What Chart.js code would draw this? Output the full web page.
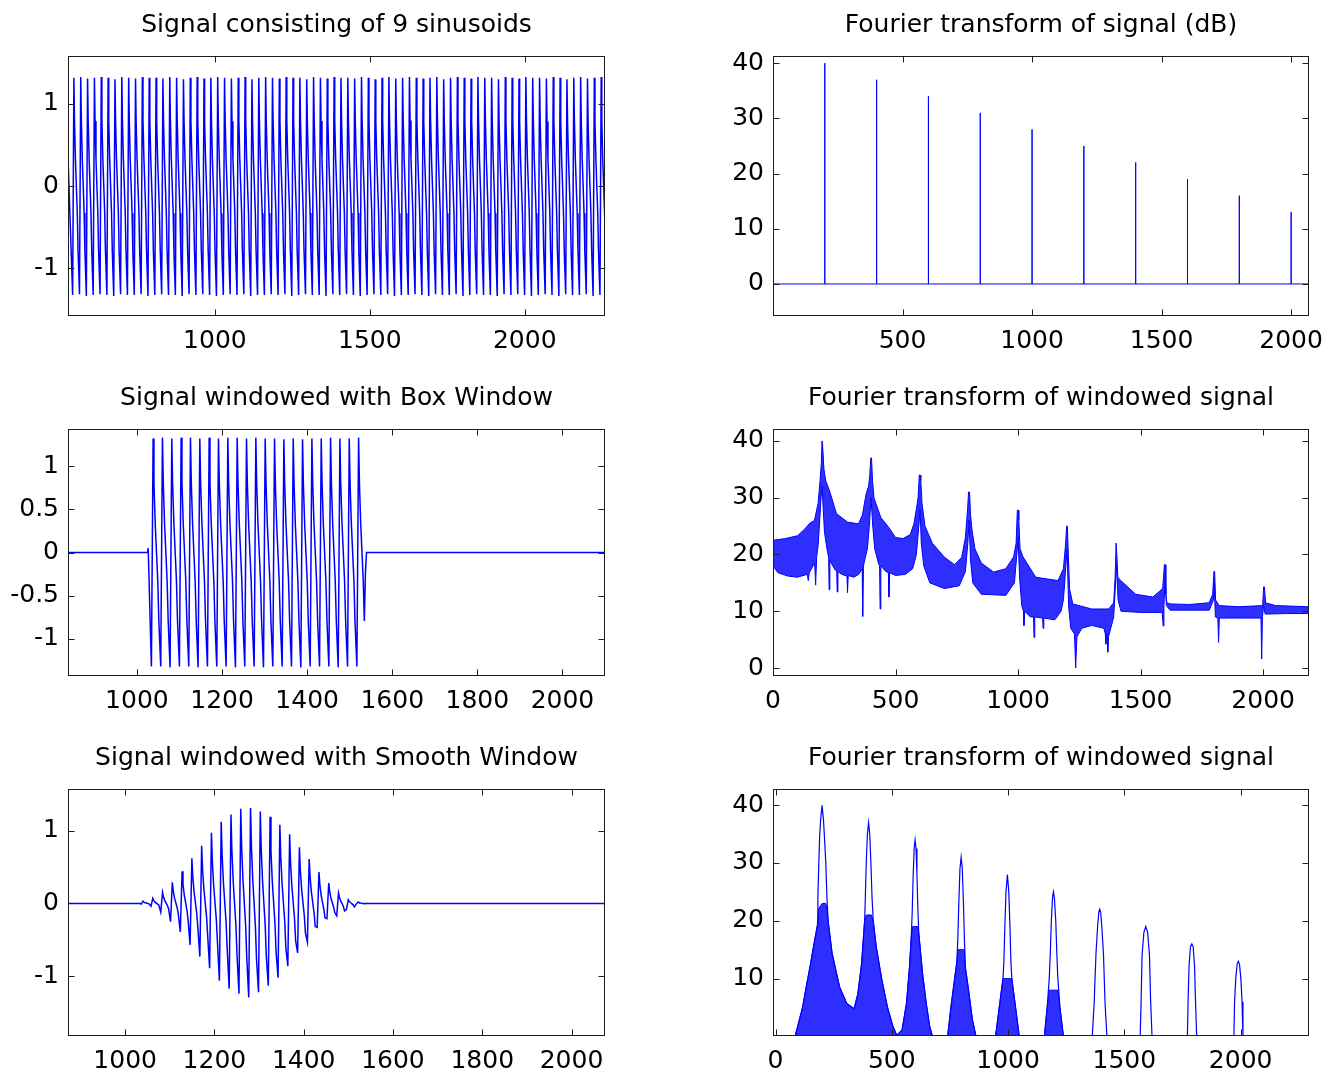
<!DOCTYPE html>
<html>
<head>
<meta charset="utf-8">
<title>Signal windowing</title>
<script src="https://cdn.jsdelivr.net/npm/chart.js@4.4.1/dist/chart.umd.min.js"></script>
<style>
  html, body { margin: 0; padding: 0; background: #fff; }
  body { width: 1326px; height: 1075px; position: relative; overflow: hidden; }
  canvas { position: absolute; }
</style>
</head>
<body>
<canvas id="sig"></canvas>
<canvas id="sigFt"></canvas>
<canvas id="box"></canvas>
<canvas id="boxFt"></canvas>
<canvas id="smooth"></canvas>
<canvas id="smoothFt"></canvas>
<script>
// ---------- values ----------

// shape of one cycle of the time signal: offsets after the trough, and level as a
// fraction of that cycle's peak (positive) or trough (negative)
const cycleShapeOffset = [0, 4, 6, 9, 15, 17.5];
const cycleShapeLevel = [-1, 1, 0.6, 0.25, -0.25, -0.6];

// top left: full signal, trough and peak of every cycle
const sigLeadX = [526];
const sigLeadY = [0.35];
const sigFirstTrough = 541;
const sigPeriod = 22.1;
const sigTroughs = [
  -1.33,-1.32,-1.34,-1.33,-1.32,-1.33,-1.34,-1.32,-1.33,-1.33,
  -1.32,-1.34,-1.33,-1.32,-1.33,-1.33,-1.34,-1.32,-1.33,-1.32,
  -1.33,-1.34,-1.33,-1.32,-1.33,-1.32,-1.34,-1.33,-1.33,-1.32,
  -1.33,-1.32,-1.34,-1.33,-1.32,-1.33,-1.33,-1.34,-1.32,-1.33,
  -1.32,-1.33,-1.34,-1.33,-1.32,-1.33,-1.32,-1.34,-1.33,-1.33,
  -1.32,-1.33,-1.34,-1.32,-1.33,-1.33,-1.32,-1.34,-1.33,-1.32,
  -1.33,-1.33,-1.34,-1.32,-1.33,-1.32,-1.33,-1.34,-1.33,-1.32,
  -1.33,-1.34,-1.32,-1.33,-1.33,-1.32,-1.34,-1.33,-1.32
];
const sigPeaks = [
  1.32,1.33,1.31,1.32,1.33,1.32,1.30,1.33,1.32,1.31,
  1.33,1.32,1.32,1.31,1.33,1.32,1.30,1.32,1.33,1.31,
  1.32,1.33,1.32,1.31,1.32,1.33,1.30,1.32,1.33,1.32,
  1.31,1.33,1.32,1.32,1.30,1.33,1.32,1.31,1.33,1.32,
  1.32,1.31,1.33,1.32,1.30,1.32,1.33,1.31,1.32,1.33,
  1.32,1.31,1.32,1.33,1.30,1.32,1.33,1.32,1.31,1.33,
  1.32,1.32,1.30,1.33,1.32,1.31,1.33,1.32,1.32,1.31,
  1.33,1.32,1.30,1.32,1.33,1.31,1.32,1.33,1.32
];

// top right: line spectrum (dB)
const toneHz = [200, 400, 600, 800, 1000, 1200, 1400, 1600, 1800, 2000];
const toneDb = [40, 37, 34, 31, 28, 25, 22, 19, 16, 13];
const toneFloorDb = 0;
const toneEndHz = 2069;

// middle left: box-windowed signal
const boxLeadX = [838, 1025, 1026.5];
const boxLeadY = [0, 0, 0.05];
const boxFirstTrough = 1034;
const boxPeriod = 21.95;
const boxTroughs = [-1.32,-1.32,-1.33,-1.32,-1.32,-1.33,-1.32,-1.32,-1.32,-1.33,-1.32,-1.32,
                    -1.33,-1.32,-1.32,-1.32,-1.33,-1.32,-1.32,-1.32,-1.33,-1.32,-1.32];
const boxPeaks = [1.32,1.33,1.32,1.33,1.33,1.32,1.33,1.32,1.33,1.33,1.32,1.33,
                  1.32,1.32,1.31,1.32,1.31,1.32,1.32,1.33,1.32,1.32,1.33];
const boxTailX = [1537, 1539.5, 2100];
const boxTailY = [-0.24, 0, 0];

// middle right: spectrum of box-windowed signal, upper and lower edge of the trace
const boxFtUpperHz = [
  0, 50, 100, 130, 150, 169, 184, 192, 197, 200,
  204, 208, 215, 230, 259, 304, 349, 365, 380, 390,
  395, 399, 402, 406, 412, 420, 440, 470, 500, 530,
  560, 575, 585, 592, 597, 600, 603, 608, 620, 650,
  700, 741, 770, 785, 794, 798, 802, 806, 812, 824,
  850, 900, 950, 982, 992, 997, 1000, 1003, 1008, 1020,
  1072, 1163, 1185, 1194, 1198, 1201, 1205, 1210, 1223, 1300,
  1370, 1390, 1396, 1400, 1403, 1407, 1419, 1480, 1550, 1590,
  1597, 1600, 1603, 1607, 1620, 1700, 1780, 1794, 1799, 1802,
  1806, 1820, 1900, 1998, 2002, 2005, 2010, 2050, 2187
];
const boxFtUpperDb = [
  22.5, 22.8, 23.3, 24.5, 25.5, 26, 29, 33, 36, 40,
  40, 35, 33, 31.3, 27.2, 25.7, 25.4, 27, 30.7, 32,
  34, 37, 37, 33, 30, 29, 26.5, 24.9, 23, 22.8,
  23.5, 25.4, 28, 30, 34, 34, 33, 29, 25, 22,
  19.5, 18.2, 19.5, 23, 28, 31, 31, 27, 24.3, 21,
  18.5, 16.9, 17.5, 19.6, 22, 27.8, 27.8, 26, 21, 19.6,
  16, 15.4, 17.5, 22, 25, 25, 20, 14, 11.3, 10.4,
  10.4, 11.5, 16, 22, 22, 16, 15.4, 13, 12.5, 14,
  18.2, 18.2, 13, 11.5, 11.3, 11.2, 11.5, 13, 17, 17,
  12, 11, 10.8, 11, 14.3, 14.3, 11.5, 11, 10.8
];
const boxFtLowerHz = [
  0, 20, 60, 100, 140, 144, 148, 170, 174, 178,
  185, 192, 196, 200, 205, 210, 220, 227, 229, 232,
  250, 260, 262, 265, 280, 302, 304, 307, 330, 350,
  364, 366, 369, 385, 393, 400, 407, 415, 430, 435,
  437, 440, 460, 471, 473, 476, 500, 540, 570, 585,
  595, 600, 605, 615, 640, 700, 760, 785, 795, 800,
  806, 815, 850, 950, 985, 995, 1000, 1006, 1015, 1022,
  1024, 1027, 1050, 1063, 1065, 1068, 1100, 1102, 1105, 1150,
  1175, 1185, 1195, 1200, 1206, 1215, 1230, 1235, 1240, 1260,
  1300, 1350, 1356, 1358, 1361, 1364, 1366, 1369, 1390, 1398,
  1402, 1408, 1420, 1500, 1588, 1592, 1595, 1600, 1605, 1620,
  1780, 1797, 1800, 1805, 1815, 1818, 1821, 1900, 1991, 1994,
  1997, 2002, 2008, 2100, 2187
];
const boxFtLowerDb = [
  18, 16.8, 16.2, 16, 16.5, 15.4, 16.8, 18.5, 14.6, 19.5,
  22, 27, 30, 32, 28, 24, 21, 19.5, 13.8, 19,
  17.5, 17, 13.4, 17, 16.5, 16.2, 13.3, 16.3, 16, 16.5,
  17.5, 9.1, 18, 21, 25, 30, 25, 21, 18.5, 18,
  10.4, 18, 17, 16.8, 12.5, 16.8, 16.3, 16.5, 17.5, 20,
  25, 28, 22, 18, 15, 14, 14.5, 17, 22, 26,
  19, 15, 13, 12.8, 15, 20, 23, 16, 11, 10,
  7.5, 10, 9, 9, 5.4, 9, 8.8, 7, 8.8, 8.5,
  10, 12, 18, 21, 11, 7, 6, 0, 5.5, 7,
  7.5, 7, 6, 4.2, 6, 5.5, 2.8, 5.5, 9, 15,
  18, 12, 10, 9.8, 9.8, 7.4, 11, 16, 11, 10.2,
  10.2, 12, 15, 9, 8.8, 4.5, 8.8, 8.8, 8.8, 1.6,
  9, 11, 9.5, 9.6, 9.6
];

// bottom left: smooth-windowed signal
const smoothLeadX = [872, 1034];
const smoothLeadY = [0, 0];
const smoothFirstTrough = 1036;
const smoothPeriod = 21.9;
const smoothTroughs = [-0.01, -0.04, -0.12, -0.25, -0.39, -0.57, -0.73, -0.89, -1.06, -1.17, -1.24, -1.29,
                       -1.22, -1.13, -1.02, -0.86, -0.68, -0.53, -0.33, -0.21, -0.17, -0.08, -0.01];
const smoothPeaks = [0.03, 0.07, 0.15, 0.29, 0.44, 0.62, 0.79, 0.97, 1.12, 1.22, 1.30, 1.31,
                     1.26, 1.19, 1.08, 0.95, 0.77, 0.61, 0.43, 0.28, 0.14, 0.05, 0.02];
const smoothTailX = [1537, 2075];
const smoothTailY = [0, 0];

// bottom right: spectrum of smooth-windowed signal, outline of the lobes
const smoothFtLineHz = [
  0, 84, 100, 116, 132, 148, 163, 179, 182, 186, 190, 194, 200, 206, 211, 216, 221, 226, 243, 275, 306, 338, 354, 370, 383,
  386, 390, 395, 400, 405, 410, 415, 420, 433, 457, 481, 505, 521, 544, 563, 576, 584,
  588, 592, 596, 600, 604, 608, 612, 616, 632, 648, 663, 675,
  740, 754, 770, 780, 784, 788, 793, 798, 803, 808, 812, 816, 830, 846, 862,
  946, 965, 978, 982, 986, 991, 997, 1003, 1008, 1012, 1016, 1029, 1048,
  1156, 1168, 1177, 1182, 1186, 1191, 1195, 1199, 1205, 1209, 1214, 1223, 1238,
  1362, 1370, 1378, 1385, 1390, 1394, 1398, 1403, 1410, 1417, 1425,
  1568, 1572, 1576, 1584, 1592, 1600, 1608, 1613, 1619,
  1771, 1774, 1778, 1784, 1790, 1796, 1802, 1806, 1811,
  1971, 1974, 1979, 1985, 1990, 1995, 2001, 2006, 2010, 2294
];
const smoothFtLineDb = [
  0, 0, 2.5, 5, 8.6, 12, 15.5, 19, 24, 30, 35, 37.5, 40, 37.5, 34, 30, 24, 20, 14.4, 8.6, 5.7, 4.8, 7.4, 12.6, 20,
  24, 30, 35, 37, 35, 30, 24, 20, 15.5, 9.8, 5.1, 1.7, 0.2, 1.1, 5.7, 12, 17.5,
  22, 28, 32.5, 34, 32.5, 28, 22, 17.8, 10.9, 5.7, 1.7, 0,
  0, 5, 10, 13, 17, 23, 29, 31, 29, 23, 17, 12, 8, 3, 0,
  0, 6, 10, 13, 19, 25, 28, 25, 19, 13, 10, 6, 0,
  0, 5, 10, 15, 20, 24, 25, 24, 20, 15, 10, 5, 0,
  0, 5.7, 14.4, 19, 21.5, 22, 21.5, 19, 14.4, 5.7, 0,
  0, 6, 14, 18, 19, 18, 14, 6, 0,
  0, 6, 12, 15.5, 16, 15.5, 12, 6, 0,
  0, 6, 10, 12.5, 13, 12.5, 10, 6, 0, 0
];
// dense side-lobe region, filled down to the axis
const smoothFtDenseHz = [
  0, 84, 100, 116, 132, 148, 163, 179, 184, 200,
  216, 221, 226, 243, 275, 306, 338, 354, 370, 383,
  390, 412, 420, 433, 457, 481, 505, 521, 544, 563,
  576, 584, 590, 612, 616, 632, 648, 663, 675, 740,
  754, 770, 780, 784, 812, 816, 830, 846, 862, 946,
  965, 978, 1016, 1029, 1048, 1156, 1168, 1177, 1214, 1223,
  1238, 2294
];
const smoothFtDenseDb = [
  0, 0, 2.5, 5, 8.6, 12, 15.5, 19, 22, 23,
  23, 22, 20, 14.4, 8.6, 5.7, 4.8, 7.4, 12.6, 20,
  21, 21, 20, 15.5, 9.8, 5.1, 1.7, 0.2, 1.1, 5.7,
  12, 17.5, 19, 19, 17.8, 10.9, 5.7, 1.7, 0, 0,
  5, 10, 13, 15, 15, 12, 8, 3, 0, 0,
  6, 10, 10, 6, 0, 0, 5, 8, 8, 5,
  0, 0
];

// axis limits and tick labels
const sigAxes = { x: [526, 2259], xt: [1000, 1500, 2000], y: [-1.585, 1.585], yt: [-1, 0, 1] };
const sigFtAxes = { x: [0, 2069], xt: [500, 1000, 1500, 2000], y: [-5.8, 41.3], yt: [0, 10, 20, 30, 40] };
const boxAxes = { x: [838, 2100], xt: [1000, 1200, 1400, 1600, 1800, 2000], y: [-1.43, 1.43], yt: [-1, -0.5, 0, 0.5, 1] };
const boxFtAxes = { x: [0, 2187], xt: [0, 500, 1000, 1500, 2000], y: [-1.4, 42.1], yt: [0, 10, 20, 30, 40] };
const smoothAxes = { x: [872, 2075], xt: [1000, 1200, 1400, 1600, 1800, 2000], y: [-1.82, 1.57], yt: [-1, 0, 1] };
const smoothFtAxes = { x: [-11, 2294], xt: [0, 500, 1000, 1500, 2000], y: [0.07, 42.8], yt: [10, 20, 30, 40] };

// ---------- drawing ----------
const BLUE = '#0000ff';
const DENSE = 'rgba(0,0,255,0.82)';
const FONT = { family: '"DejaVu Sans", sans-serif', size: 25, lineHeight: 1.2, weight: 'normal' };
Chart.defaults.font.family = FONT.family;

function xy(xs, ys) {
  return xs.map((x, i) => ({ x: x, y: ys[i] }));
}

// every cycle: the read cycle shape scaled to that cycle's trough and peak
function cycles(first, period, troughs, peaks) {
  const out = [];
  troughs.forEach((t, i) => {
    const x0 = first + i * period;
    cycleShapeOffset.forEach((dx, k) => {
      const lv = cycleShapeLevel[k];
      out.push({ x: x0 + dx, y: lv >= 0 ? lv * peaks[i] : -lv * t });
    });
  });
  return out;
}

// box with inward ticks on all four sides, like the original axes
const framePlugin = {
  id: 'frame',
  afterDatasetsDraw(chart) {
    const { ctx, chartArea: a } = chart;
    const xs = chart.scales.x, ys = chart.scales.y;
    const L = Math.round(a.left) + 0.5, R = Math.round(a.right) - 0.5;
    const T = Math.round(a.top) + 0.5, B = Math.round(a.bottom) - 0.5;
    ctx.save();
    ctx.strokeStyle = '#1e1e1e';
    ctx.lineWidth = 1;
    ctx.strokeRect(L, T, R - L, B - T);
    ctx.beginPath();
    xs.ticks.forEach(t => {
      const px = Math.round(xs.getPixelForValue(t.value)) + 0.5;
      ctx.moveTo(px, B); ctx.lineTo(px, B - 6);
      ctx.moveTo(px, T); ctx.lineTo(px, T + 6);
    });
    ys.ticks.forEach(t => {
      const py = Math.round(ys.getPixelForValue(t.value)) + 0.5;
      ctx.moveTo(L, py); ctx.lineTo(L + 6, py);
      ctx.moveTo(R, py); ctx.lineTo(R - 6, py);
    });
    ctx.stroke();
    ctx.restore();
  }
};

function axis(range, ticks, pad, fit) {
  return {
    type: 'linear',
    min: range[0],
    max: range[1],
    afterBuildTicks: s => { s.ticks = ticks.map(v => ({ value: v })); },
    afterFit: fit,
    grid: { display: false, drawTicks: false },
    border: { display: false },
    ticks: { color: '#000', font: FONT, padding: pad, maxRotation: 0, autoSkip: false, callback: v => String(v) }
  };
}

// every canvas leaves 68px left of the plot box for the y labels and 50px top and bottom
function panel(id, box, title, axes, datasets) {
  const pad = 44;
  const cv = document.getElementById(id);
  cv.width = 68 + box.w + pad;
  cv.height = 50 + box.h + 50;
  cv.style.left = (box.x - 68) + 'px';
  cv.style.top = (box.y - 50) + 'px';
  return new Chart(cv, {
    type: 'line',
    data: {
      datasets: datasets.map(d => Object.assign({
        borderColor: BLUE, borderWidth: 1, pointRadius: 0, tension: 0, fill: false
      }, d))
    },
    options: {
      responsive: false,
      animation: false,
      events: [],
      layout: { padding: { left: 0, right: pad, top: 0, bottom: 0 } },
      plugins: {
        legend: { display: false },
        tooltip: { enabled: false },
        title: {
          display: true, text: title, fullSize: false, color: '#000',
          font: FONT, padding: { top: 4, bottom: 16 }
        }
      },
      scales: {
        x: axis(axes.x, axes.xt, 10, s => { s.height = 50; }),
        y: axis(axes.y, axes.yt, 9, s => { s.width = 68; })
      }
    },
    plugins: [framePlugin]
  });
}

// line spectrum: floor with a vertical stroke at each tone
const tonePts = [{ x: 0, y: toneFloorDb }];
toneHz.forEach((f, i) => {
  tonePts.push({ x: f, y: toneFloorDb }, { x: f, y: toneDb[i] }, { x: f, y: toneFloorDb });
});
tonePts.push({ x: toneEndHz, y: toneFloorDb });

panel('sig', { x: 68, y: 56, w: 537, h: 260 }, 'Signal consisting of 9 sinusoids', sigAxes, [
  { data: xy(sigLeadX, sigLeadY).concat(cycles(sigFirstTrough, sigPeriod, sigTroughs, sigPeaks)), borderWidth: 1.5 }
]);

panel('sigFt', { x: 773, y: 56, w: 536, h: 260 }, 'Fourier transform of signal (dB)', sigFtAxes, [
  { data: tonePts }
]);

panel('box', { x: 68, y: 429, w: 537, h: 247 }, 'Signal windowed with Box Window', boxAxes, [
  { data: xy(boxLeadX, boxLeadY)
      .concat(cycles(boxFirstTrough, boxPeriod, boxTroughs, boxPeaks))
      .concat(xy(boxTailX, boxTailY)), borderWidth: 1.5 }
]);

panel('boxFt', { x: 773, y: 429, w: 536, h: 247 }, 'Fourier transform of windowed signal', boxFtAxes, [
  { data: xy(boxFtUpperHz, boxFtUpperDb) },
  { data: xy(boxFtLowerHz, boxFtLowerDb), fill: '-1', backgroundColor: DENSE }
]);

panel('smooth', { x: 68, y: 789, w: 537, h: 247 }, 'Signal windowed with Smooth Window', smoothAxes, [
  { data: xy(smoothLeadX, smoothLeadY)
      .concat(cycles(smoothFirstTrough, smoothPeriod, smoothTroughs, smoothPeaks))
      .concat(xy(smoothTailX, smoothTailY)), borderWidth: 1.5 }
]);

panel('smoothFt', { x: 773, y: 789, w: 536, h: 247 }, 'Fourier transform of windowed signal', smoothFtAxes, [
  { data: xy(smoothFtLineHz, smoothFtLineDb), borderWidth: 1.2 },
  { data: xy(smoothFtDenseHz, smoothFtDenseDb), fill: 'start', backgroundColor: DENSE }
]);
</script>
</body>
</html>
